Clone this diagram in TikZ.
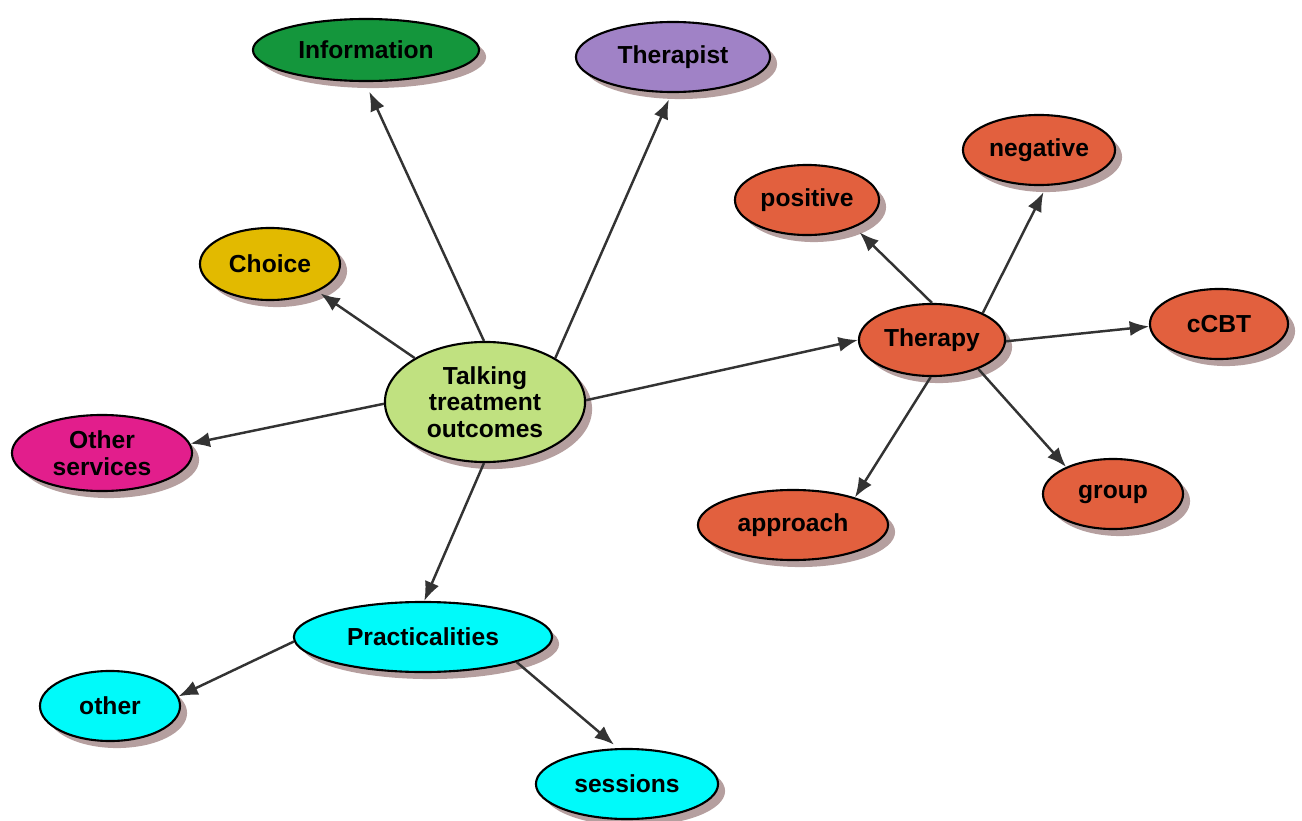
\documentclass[tikz,border=0pt]{standalone}
\usepackage{fontspec}
\setmainfont{Liberation Sans}
\usepackage{tikz}
\usetikzlibrary{shapes.geometric}
\usetikzlibrary{shadows}
\usetikzlibrary{arrows.meta}
\definecolor{infogreen}{RGB}{20,150,60}
\definecolor{thpurple}{RGB}{160,130,198}
\definecolor{choiceyellow}{RGB}{226,186,0}
\definecolor{therred}{RGB}{226,96,62}
\definecolor{talkgreen}{RGB}{192,225,128}
\definecolor{othermag}{RGB}{226,30,140}
\definecolor{praccyan}{RGB}{0,250,250}
\definecolor{shadowbrown}{RGB}{150,118,118}
\tikzstyle{topic}=[ellipse, draw=black, line width=0.6pt, inner sep=0pt,
    minimum height=0.7cm, align=center,
    font=\fontsize{7}{7.6}\selectfont\bfseries,
    drop shadow={shadow xshift=2pt, shadow yshift=-2pt, fill=shadowbrown, opacity=0.7}]
\tikzstyle{link}=[draw=black!80, line width=0.7pt, -{Latex[length=5.5pt,width=4.3pt]}]
\begin{document}
\begin{tikzpicture}[x=0.01cm, y=-0.01cm]
          \useasboundingbox (0,0) rectangle (1302,821);
          \node[topic, fill=talkgreen, minimum width=2cm, minimum height=1.2cm] (talk) at (485,402){Talking\\treatment\\outcomes};
          \node[topic, fill=infogreen, minimum width=2.26cm, minimum height=0.62cm] (info) at (366,50){Information};
          \node[topic, fill=thpurple, minimum width=1.94cm] (therapist) at (673,57){Therapist};
          \node[topic, fill=choiceyellow, minimum width=1.4cm, minimum height=0.72cm] (choice) at (270,264){Choice};
          \node[topic, fill=othermag, minimum width=1.8cm, minimum height=0.76cm] (othsvc) at (102,453){Other\\services};
          \node[topic, fill=therred, minimum width=1.46cm, minimum height=0.72cm] (therapy) at (932,340){Therapy};
          \node[topic, fill=therred, minimum width=1.44cm] (positive) at (807,200){positive};
          \node[topic, fill=therred, minimum width=1.52cm] (negative) at (1039,150){negative};
          \node[topic, fill=therred, minimum width=1.38cm] (ccbt) at (1219,324){cCBT};
          \node[topic, fill=therred, minimum width=1.4cm] (group) at (1113,494){group};
          \node[topic, fill=therred, minimum width=1.9cm] (approach) at (793,525){approach};
          \node[topic, fill=praccyan, minimum width=2.58cm] (prac) at (423,637){Practicalities};
          \node[topic, fill=praccyan, minimum width=1.4cm] (other) at (110,706){other};
          \node[topic, fill=praccyan, minimum width=1.82cm] (sessions) at (627,784){sessions};
          % from the centre topic
          \draw[link, shorten >=3pt](talk.91) -- (info.268);
          \draw[link, shorten >=2pt](talk.32) -- (therapist.268);
          \draw[link, shorten >=1pt](talk.148) -- (choice.-30);
          \draw[link](talk.181) -- (othsvc.6);
          \draw[link](talk.1) -- (therapy.180);
          \draw[link](talk.269) -- (prac.88);
          % therapy kinds
          \draw[link, shorten >=2pt](therapy.90) -- (positive.-30);
          \draw[link, shorten >=2pt](therapy.28) -- (negative.-78);
          \draw[link](therapy.-1) -- (ccbt.182);
          \draw[link](therapy.-32) -- (group.150);
          \draw[link](therapy.268) -- (approach.24);
          % practical things
          \draw[link](prac.182) -- (other.8);
          \draw[link, shorten >=1.5pt](prac.-15) -- (sessions.104);
        \end{tikzpicture}
\end{document}
